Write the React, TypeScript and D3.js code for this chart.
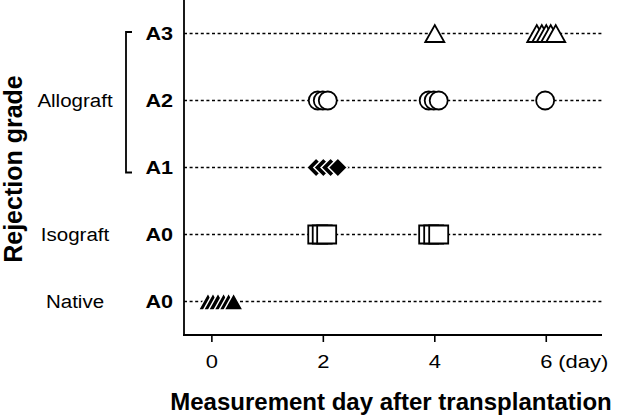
import { useRef, useEffect } from 'react';
import * as d3 from 'd3';

const W = 622;
const H = 416;

// row order top -> bottom
const rowKeys = ['A3', 'A2', 'A1', 'A0iso', 'A0nat'];
const rowLabels = ['A3', 'A2', 'A1', 'A0', 'A0'];
const xTicks = [0, 2, 4, 6];

// days of each measurement, drawn in order (later ones cover earlier)
const allograftA3Days = [4.0, 5.83, 5.92, 6.0, 6.08, 6.17];
const allograftA2Days = [1.9, 1.99, 2.08, 3.89, 3.98, 4.07, 5.98];
const allograftA1Days = [1.87, 2.0, 2.13, 2.26];
const isograftA0Days = [1.9, 1.98, 2.06, 3.89, 3.98, 4.07];
const nativeA0Days = [-0.07, 0.02, 0.11, 0.21, 0.3, 0.39];

const groups = [
  { name: 'Allograft', from: 'A3', to: 'A1' },
  { name: 'Isograft', from: 'A0iso', to: 'A0iso' },
  { name: 'Native', from: 'A0nat', to: 'A0nat' },
];

const FONT = 'Liberation Sans, Arial, sans-serif';

function shapePath(shape: string, cx: number, cy: number) {
  if (shape === 'triangle') {
    const w = 19, h = 17;
    return `M${cx - w / 2},${cy + h / 2}L${cx},${cy - h / 2}L${cx + w / 2},${cy + h / 2}Z`;
  }
  if (shape === 'square') {
    const w = 19, h = 18;
    return `M${cx - w / 2},${cy - h / 2}h${w}v${h}h${-w}Z`;
  }
  if (shape === 'diamond') {
    const r = 9.5;
    return `M${cx - r},${cy}L${cx},${cy - r}L${cx + r},${cy}L${cx},${cy + r}Z`;
  }
  // circle
  const r = 9;
  return `M${cx - r},${cy}a${r},${r} 0 1,0 ${2 * r},0a${r},${r} 0 1,0 ${-2 * r},0Z`;
}

export default function App() {
  const ref = useRef<SVGSVGElement>(null);

  useEffect(() => {
    const svg = d3.select(ref.current);
    svg.selectAll('*').remove();

    const x = d3.scaleLinear().domain([-0.5, 7]).range([184, 602]);
    const y = d3.scalePoint().domain(rowKeys).range([0, 335]).padding(0.5);
    const bottom = 335;

    // text helper: wide-ish glyphs like the original figure
    const label = (tx: number, ty: number, str: string, size: number, sx: number,
      anchor = 'start', weight = 400) =>
      svg.append('text')
        .attr('transform', `translate(${tx},${ty}) scale(${sx},1)`)
        .attr('text-anchor', anchor).attr('font-family', FONT)
        .attr('font-size', size).attr('font-weight', weight).text(str);

    // dotted row lines
    rowKeys.forEach(k => {
      svg.append('line')
        .attr('x1', x(-0.5)).attr('x2', x(7))
        .attr('y1', y(k)).attr('y2', y(k))
        .attr('stroke', '#000').attr('stroke-width', 1.7)
        .attr('stroke-dasharray', '3,2.6');
    });

    // axes
    svg.append('line').attr('x1', 184).attr('x2', 184).attr('y1', 0).attr('y2', bottom + 1)
      .attr('stroke', '#000').attr('stroke-width', 1.8);
    svg.append('line').attr('x1', 183).attr('x2', 602).attr('y1', bottom).attr('y2', bottom)
      .attr('stroke', '#000').attr('stroke-width', 1.8);

    xTicks.forEach(t => {
      svg.append('line').attr('x1', x(t)).attr('x2', x(t)).attr('y1', bottom).attr('y2', bottom + 7)
        .attr('stroke', '#000').attr('stroke-width', 1.6);
      label(x(t), 368, String(t), 18, 1.22, 'middle');
    });
    label(x(6) + 12, 368, '(day)', 18, 1.22);

    // row labels
    rowKeys.forEach((k, i) => {
      label(173, (y(k) as number) + 6.5, rowLabels[i], 18, 1.2, 'end', 700);
    });

    // group labels + bracket
    groups.forEach(g => {
      const y0 = y(g.from) as number;
      const y1 = y(g.to) as number;
      const cy = (y0 + y1) / 2;
      label(75, cy + 6, g.name, 19, 1.08, 'middle');
      if (g.from !== g.to) {
        svg.append('path')
          .attr('d', `M132,${y0 - 1.5}H126V${y1 + 5}H132`)
          .attr('fill', 'none').attr('stroke', '#000').attr('stroke-width', 1.8);
      }
    });

    // markers
    const series = [
      { row: 'A3', days: allograftA3Days, shape: 'triangle', filled: false },
      { row: 'A2', days: allograftA2Days, shape: 'circle', filled: false },
      { row: 'A1', days: allograftA1Days, shape: 'diamond', filled: true },
      { row: 'A0iso', days: isograftA0Days, shape: 'square', filled: false },
      { row: 'A0nat', days: nativeA0Days, shape: 'triangle', filled: true },
    ];
    series.forEach(s => {
      s.days.forEach(d => {
        svg.append('path')
          .attr('d', shapePath(s.shape, x(d), y(s.row) as number))
          .attr('fill', s.filled ? '#000' : '#fff')
          .attr('stroke', s.filled ? '#fff' : '#000')
          .attr('stroke-width', s.filled ? 1.5 : 1.8)
          .attr('stroke-linejoin', 'miter');
      });
    });

    // axis titles
    svg.append('text').attr('x', 391).attr('y', 410)
      .attr('text-anchor', 'middle').attr('font-family', FONT).attr('font-size', 24)
      .attr('font-weight', 700).text('Measurement day after transplantation');
    svg.append('text').attr('transform', 'translate(22,169) rotate(-90)')
      .attr('text-anchor', 'middle').attr('font-family', FONT).attr('font-size', 25)
      .attr('font-weight', 700).text('Rejection grade');
  }, []);

  return (
    <svg ref={ref} width={W} height={H}
      style={{ position: 'absolute', left: 0, top: 0, background: '#fff' }} />
  );
}
